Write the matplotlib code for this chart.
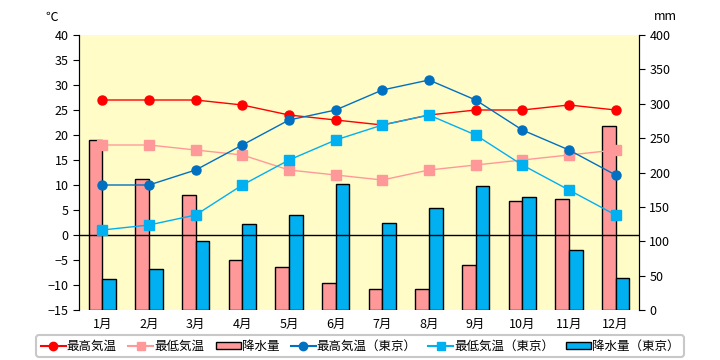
import numpy as np
import matplotlib.pyplot as plt
from matplotlib.patches import Patch
from matplotlib.lines import Line2D

plt.rcParams['font.family'] = ['Noto Sans CJK JP', 'DejaVu Sans']

months = ['1月', '2月', '3月', '4月', '5月', '6月', '7月', '8月', '9月', '10月', '11月', '12月']
t_max = [27, 27, 27, 26, 24, 23, 22, 24, 25, 25, 26, 25]
t_min = [18, 18, 17, 16, 13, 12, 11, 13, 14, 15, 16, 17]
rain = [248, 190, 167, 73, 62, 39, 30, 30, 65, 158, 161, 267]
tokyo_max = [10, 10, 13, 18, 23, 25, 29, 31, 27, 21, 17, 12]
tokyo_min = [1, 2, 4, 10, 15, 19, 22, 24, 20, 14, 9, 4]
tokyo_rain = [45, 60, 100, 125, 138, 184, 126, 148, 180, 164, 88, 46]

red = '#FF0000'
pink = '#FF9999'
blue = '#0070C0'
cyan = '#00B0F0'

fig = plt.figure(figsize=(7.2, 3.6), dpi=100)
ax = fig.add_axes([79 / 720, 50 / 360, 560 / 720, 275 / 360])
ax2 = ax.twinx()

x = np.arange(len(months))
w = 0.29

# precipitation bars (right scale)
ax.bar(x - w / 2, rain, w, color=pink, edgecolor='black', linewidth=1)
ax.bar(x + w / 2, tokyo_rain, w, color=cyan, edgecolor='black', linewidth=1)
ax.set_ylim(0, 400)
ax.set_yticks(range(0, 401, 50))
ax.yaxis.tick_right()
ax.set_facecolor('#FFFCC8')
ax.set_xlim(-0.5, 11.5)
ax.set_xticks(x)
ax.set_xticklabels(months, fontsize=9)
ax.tick_params(axis='x', length=0, pad=6)
ax.tick_params(axis='y', labelsize=9, length=4, direction='out')

# temperature lines (left scale)
ax2.axhline(0, color='black', linewidth=1, zorder=1)
ax2.plot(x, t_max, color=red, marker='o', markersize=6.5, linewidth=1, zorder=3)
ax2.plot(x, t_min, color=pink, marker='s', markersize=6.5, linewidth=1, zorder=3)
ax2.plot(x, tokyo_max, color=blue, marker='o', markersize=6.5, linewidth=1, zorder=3)
ax2.plot(x, tokyo_min, color=cyan, marker='s', markersize=6.5, linewidth=1, zorder=3)
ax2.set_ylim(-15, 40)
ax2.set_yticks(range(-15, 41, 5))
ax2.yaxis.tick_left()
ax2.tick_params(axis='y', labelsize=9, length=4, direction='out')
ax2.patch.set_visible(False)

for a in (ax, ax2):
    a.spines['top'].set_visible(False)
    a.spines['bottom'].set_visible(False)
    a.spines['left'].set_color('black')
    a.spines['right'].set_color('black')

fig.text(52 / 720, 1 - 17 / 360, '℃', fontsize=9, ha='center', va='center')
fig.text(665 / 720, 1 - 17 / 360, 'mm', fontsize=9, ha='center', va='center')

handles = [
    Line2D([], [], color=red, marker='o', markersize=6),
    Line2D([], [], color=pink, marker='s', markersize=6),
    Patch(facecolor=pink, edgecolor='black'),
    Line2D([], [], color=blue, marker='o', markersize=6),
    Line2D([], [], color=cyan, marker='s', markersize=6),
    Patch(facecolor=cyan, edgecolor='black'),
]
labels = ['最高気温', '最低気温', '降水量', '最高気温（東京）', '最低気温（東京）', '降水量（東京）']
leg = fig.legend(handles, labels, loc='center', bbox_to_anchor=(360 / 720, 1 - 346 / 360),
                 ncol=6, fontsize=9, frameon=True, fancybox=True, edgecolor='#BBBBBB',
                 handlelength=2.0, handleheight=0.5, handletextpad=0.1, columnspacing=0.9,
                 borderpad=0.35)
leg.get_frame().set_linewidth(1.5)

fig.savefig('out.png', dpi=100)
